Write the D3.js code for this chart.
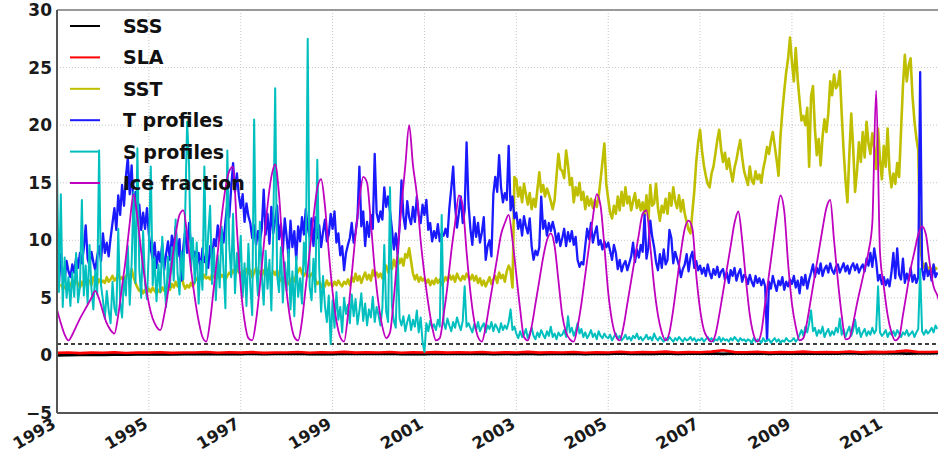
<!DOCTYPE html>
<html><head><meta charset="utf-8">
<script src="https://cdn.jsdelivr.net/npm/d3@7"></script>
<style>html,body{margin:0;padding:0;background:#fff;} svg{display:block;}</style>
</head><body><svg id="chart" width="938" height="454"></svg>
<script>
// ---------------- DATA ----------------
const seriesNames = ["SSS", "SLA", "SST", "T profiles", "S profiles", "Ice fraction"];
const xTickYears = [1993, 1995, 1997, 1999, 2001, 2003, 2005, 2007, 2009, 2011];
const yTicks = [-5, 0, 5, 10, 15, 20, 25, 30];
const startYear = 1993;
const thresholdLevel = 1;

// quarterly samples (4 per year)
const sss = [
0.00,0.02,0.04,0.05, 0.06,0.08,0.07,0.09, 0.10,0.12,0.09,0.11, 0.12,0.14,0.11,0.13,
0.12,0.15,0.11,0.14, 0.13,0.15,0.12,0.14, 0.12,0.16,0.13,0.15, 0.13,0.15,0.12,0.14,
0.12,0.16,0.13,0.15, 0.13,0.15,0.12,0.14, 0.12,0.15,0.11,0.14, 0.13,0.16,0.12,0.15,
0.14,0.17,0.13,0.16, 0.14,0.18,0.13,0.16, 0.15,0.18,0.14,0.17, 0.15,0.19,0.14,0.17,
0.16,0.19,0.15,0.18, 0.16,0.20,0.15,0.18, 0.17,0.20,0.16,0.19, 0.18,0.20];
const sla = [
0.22,0.25,0.20,0.24, 0.23,0.27,0.21,0.25, 0.24,0.28,0.22,0.26, 0.25,0.30,0.23,0.27,
0.24,0.29,0.22,0.26, 0.25,0.30,0.23,0.28, 0.26,0.31,0.24,0.27, 0.25,0.30,0.23,0.27,
0.26,0.29,0.24,0.28, 0.25,0.30,0.23,0.27, 0.26,0.31,0.24,0.28, 0.25,0.30,0.23,0.27,
0.26,0.32,0.25,0.29, 0.27,0.33,0.26,0.29, 0.28,0.33,0.45,0.29, 0.27,0.32,0.25,0.29,
0.28,0.33,0.27,0.30, 0.28,0.34,0.27,0.31, 0.29,0.33,0.42,0.30, 0.30,0.33];

// semi-monthly samples (24 per year)
const sst = [
null,null,6.2,5.8,6.0,5.7,6.3,6.0,6.5,6.1,6.6,6.2,5.9,6.4,6.0,6.7,6.3,6.5,6.1,6.8,6.4,6.2,6.6,6.3,
6.5,6.3,6.8,6.4,6.6,6.9,6.5,6.7,7.0,6.6,6.8,6.4,6.9,7.1,6.7,7.5,6.8,6.3,5.9,5.6,5.8,5.4,5.7,5.5,
5.8,5.5,5.9,5.6,5.4,5.7,5.5,5.9,5.6,5.8,6.0,5.7,6.2,5.9,6.4,6.0,6.3,7.1,6.2,5.8,6.1,5.9,6.3,6.0,
6.4,6.7,6.5,6.9,6.6,7.0,6.7,6.8,6.6,7.0,6.8,6.6,6.9,6.7,7.0,6.8,6.6,6.9,7.2,7.0,7.4,7.1,7.6,7.2,
7.0,7.3,6.9,7.5,7.1,7.4,6.8,7.2,7.6,7.0,7.3,6.9,7.4,7.1,7.5,7.2,6.9,7.3,7.0,7.4,6.8,6.5,6.7,6.3,
6.6,6.2,6.5,6.8,6.4,7.0,7.3,7.6,7.1,6.9,7.2,7.0,6.8,7.1,6.9,6.6,6.2,6.4,5.9,6.3,6.0,6.5,6.1,6.3,
6.0,6.4,6.1,6.5,6.2,6.0,6.4,6.2,6.6,6.1,6.8,6.4,7.1,6.5,6.9,6.3,6.8,7.2,6.6,7.0,6.5,7.4,6.9,7.2,
6.8,7.1,6.7,7.4,7.8,7.2,8.0,7.5,8.3,7.7,8.6,8.0,8.4,7.8,8.8,8.5,9.3,8.2,7.1,6.6,7.0,6.4,6.8,6.5,
6.7,6.3,6.6,6.1,6.5,6.2,6.7,6.3,6.6,6.1,6.4,6.8,6.5,7.0,6.6,6.9,6.4,7.1,6.7,6.5,6.9,6.6,7.1,6.8,
6.6,7.0,6.5,6.9,6.3,6.7,6.1,6.5,6.0,6.4,6.8,6.2,6.6,6.9,6.3,7.2,6.7,7.0,6.4,7.3,7.8,7.4,5.9,15.5,
15.3,13.8,14.6,13.3,14.9,14.0,13.1,14.1,12.7,13.6,12.9,14.4,15.9,14.2,14.8,13.8,14.5,14.0,13.4,12.7,13.5,15.6,17.5,16.2,
16.0,15.4,17.8,16.5,14.8,15.4,13.3,14.6,13.9,15.0,13.5,14.2,12.7,13.8,13.0,13.6,12.8,13.5,12.9,13.8,15.2,16.8,18.4,14.9,
13.6,12.4,11.9,13.0,12.3,13.8,12.6,14.2,13.0,14.6,13.2,13.8,12.6,13.4,14.1,12.8,13.5,12.6,13.3,12.2,13.9,11.7,14.8,13.0,
13.2,14.9,12.8,11.7,13.0,12.4,13.6,12.3,14.1,13.0,14.6,13.4,12.8,13.9,12.5,13.5,12.3,11.6,10.9,10.6,12.5,14.3,16.8,18.5,
19.6,17.8,16.5,15.6,14.9,14.6,15.8,16.4,17.5,18.7,19.6,17.9,16.8,17.6,16.2,17.1,16.0,15.1,16.3,17.0,17.9,18.7,17.2,16.0,
15.4,14.8,16.4,15.2,14.9,16.0,15.3,15.7,15.0,16.2,17.0,18.1,17.5,18.6,19.4,18.2,17.0,15.6,19.0,21.2,23.0,24.6,25.8,27.6,
25.5,23.8,26.7,24.0,22.1,20.4,20.8,20.0,21.5,16.4,22.5,23.4,19.7,17.4,18.8,16.5,19.0,20.5,19.4,21.0,23.8,22.6,24.4,23.2,
23.5,24.7,21.0,17.8,15.2,13.3,17.5,21.0,18.0,14.2,16.0,18.5,16.8,19.4,17.2,20.3,18.4,17.5,19.3,18.0,16.2,19.7,17.0,15.3,
18.2,16.4,19.7,16.0,14.6,15.8,14.9,16.7,15.5,19.5,23.4,26.1,23.8,25.2,25.8,22.5,20.4,18.9,17.8,9.5,8.2,7.6,8.0,7.4,
7.7,7.3,7.8,7.5,7.6];

const tProfiles = [
7.5,6.2,8.8,7.0,6.5,8.2,7.3,6.8,7.9,7.2,8.5,7.6,8.9,8.0,9.3,11.3,8.4,7.8,9.0,8.1,7.4,8.6,9.5,8.2,
10.6,8.9,9.8,8.6,10.2,11.5,12.8,10.9,13.9,12.2,14.8,13.0,15.5,17.2,14.0,16.5,12.6,14.2,11.8,13.1,10.9,12.4,11.0,12.8,
10.5,9.2,8.4,9.8,7.6,9.0,8.1,9.7,7.4,8.8,9.9,8.3,10.4,9.1,11.2,8.6,10.1,6.5,9.4,10.8,8.9,11.5,9.6,8.5,
9.0,7.8,8.9,7.4,9.3,8.1,8.7,7.6,9.5,8.3,10.1,9.5,11.3,10.0,10.9,9.8,11.6,13.2,12.0,14.5,16.7,14.2,15.8,13.9,
12.8,14.0,11.6,13.2,12.1,11.5,10.2,11.3,9.6,10.8,9.9,11.0,14.4,10.5,12.3,9.7,12.9,10.6,11.8,13.0,10.1,11.4,9.0,11.9,
10.3,8.5,11.7,9.4,10.8,8.3,11.2,9.9,12.0,10.5,12.7,11.1,10.3,11.9,9.5,12.0,10.2,11.3,9.4,10.7,11.8,9.9,10.5,12.3,
11.0,12.5,9.8,10.6,8.7,9.5,7.4,8.9,9.6,10.2,11.5,9.8,10.7,12.0,16.4,11.2,12.5,9.5,11.6,10.3,12.2,11.0,17.5,12.4,
11.6,12.5,11.8,14.6,12.9,13.8,12.5,11.0,9.2,10.6,8.8,11.3,15.2,12.1,11.0,13.4,12.0,11.4,12.9,11.6,13.8,12.2,11.5,13.1,
12.2,13.5,10.9,11.5,9.9,10.8,10.2,11.4,9.9,10.6,10.4,11.0,10.3,12.8,14.5,16.4,13.0,11.1,12.4,13.8,11.5,12.6,18.5,13.2,
11.0,9.6,12.0,10.3,11.5,9.8,10.7,12.0,8.3,9.5,10.0,8.6,14.0,15.5,14.2,17.4,14.6,13.3,14.1,13.5,18.2,12.6,13.8,11.9,
12.4,11.0,11.8,10.4,12.1,11.2,10.6,11.9,9.5,8.3,9.1,8.7,9.4,13.8,11.0,11.7,10.4,11.5,10.8,11.6,10.9,9.8,10.6,9.5,
10.2,11.0,9.5,10.7,9.9,10.8,9.6,10.3,8.3,7.7,8.1,7.9,9.5,11.0,10.1,11.5,9.8,10.6,11.2,9.6,10.0,9.2,9.9,9.4,
9.8,9.1,8.3,9.6,8.9,7.5,8.3,7.3,7.9,8.2,7.4,8.0,8.6,9.8,8.1,9.2,8.5,9.6,9.0,12.2,8.4,9.4,11.7,10.3,
9.4,8.1,7.4,8.8,7.6,9.2,7.9,8.3,10.9,10.2,8.0,9.0,8.4,7.8,6.8,7.5,7.9,8.8,7.3,8.5,9.0,7.6,8.2,7.4,
7.8,7.1,7.6,6.9,7.9,7.2,6.7,7.5,7.0,7.7,6.8,7.3,7.5,6.6,7.2,6.3,7.4,6.9,7.6,6.5,7.1,7.5,6.4,7.0,
6.8,6.2,7.0,6.4,6.0,6.9,6.3,6.7,6.1,6.6,6.0,1.3,6.4,5.8,6.9,6.2,5.6,6.5,6.1,6.8,5.7,6.4,6.0,6.6,
6.2,6.9,5.9,6.5,5.4,6.8,6.1,7.0,5.8,6.6,7.2,7.9,6.8,7.6,7.1,8.0,6.9,7.5,7.8,7.2,8.0,7.4,7.1,7.7,
7.9,7.2,7.6,8.0,7.3,7.8,7.1,7.7,8.0,7.4,7.9,7.2,7.6,7.9,7.3,8.4,7.8,8.9,7.7,9.3,8.2,6.5,7.0,6.2,
6.8,6.1,6.6,6.0,7.2,8.9,6.7,9.3,7.0,6.6,8.4,6.3,7.1,6.5,7.6,6.4,7.0,6.3,6.8,24.6,7.5,6.6,8.0,6.9,
7.4,6.5,7.9,6.8,7.2];

const sProfiles = [
16.3,5.5,14.0,4.2,8.5,5.0,6.8,4.3,7.2,5.1,8.9,4.6,6.0,13.5,5.2,7.8,4.5,9.6,5.8,4.0,7.4,5.3,17.8,6.1,
4.8,3.2,5.6,3.9,2.8,6.4,4.1,3.5,11.0,4.7,3.3,6.8,5.2,9.5,4.4,8.0,14.2,6.3,18.0,7.5,5.0,10.8,6.2,4.9,
9.2,16.4,6.1,8.5,4.7,7.9,5.5,10.3,6.8,4.2,8.6,5.9,9.4,6.5,11.8,7.1,5.3,9.0,6.6,12.5,20.3,16.5,7.4,10.2,
6.3,9.8,4.5,8.2,5.7,16.4,7.0,10.5,13.0,6.2,9.3,4.8,8.7,5.9,11.2,7.5,4.1,17.8,9.6,6.8,12.3,5.4,8.9,7.2,
10.4,5.1,8.0,4.3,9.7,6.0,3.5,20.5,7.8,5.2,11.6,6.9,4.4,9.1,5.8,8.3,3.9,10.7,23.2,7.0,5.5,9.4,4.6,8.1,
5.6,9.2,4.0,7.3,3.4,8.6,5.1,6.7,4.5,9.8,7.2,27.5,6.0,4.8,8.4,5.5,17.0,7.6,3.8,6.9,4.3,2.9,5.2,1.0,
4.8,2.4,5.5,3.1,4.2,2.0,5.0,3.6,4.4,2.8,5.3,3.4,4.9,2.7,3.9,5.4,3.0,4.5,2.6,4.0,3.3,5.1,2.9,4.2,
3.5,2.6,4.1,9.6,3.8,2.9,14.6,4.3,3.0,2.4,8.8,3.2,2.6,3.4,2.1,2.9,3.5,2.2,3.1,2.5,3.9,2.0,3.3,1.2,
0.3,2.8,2.1,3.0,2.4,2.7,2.2,3.1,2.5,12.2,2.9,2.3,3.2,2.6,2.1,2.9,2.4,3.3,2.7,2.2,3.0,6.0,2.5,2.8,
2.4,2.0,2.7,2.2,2.9,2.1,2.5,2.8,2.0,2.6,2.3,2.9,2.1,2.7,2.4,2.0,2.8,2.2,2.6,2.3,2.9,4.0,2.2,2.5,
1.9,1.5,2.1,1.6,1.8,2.3,1.5,1.9,2.4,1.7,1.4,2.0,1.6,2.2,1.8,1.5,2.1,1.7,2.5,1.6,1.9,1.4,2.0,1.7,
1.8,2.2,1.6,3.4,2.0,2.4,1.7,2.1,2.8,1.9,2.3,1.6,2.0,1.5,1.8,2.2,1.6,1.9,1.4,2.1,1.7,1.5,1.9,1.6,
1.5,1.8,1.3,1.6,1.9,1.4,1.7,1.3,1.5,1.8,1.4,1.6,1.3,1.7,1.5,1.9,1.4,1.6,1.3,1.5,1.8,1.4,1.6,1.3,
1.9,1.5,1.3,1.6,1.4,1.2,1.5,1.3,1.6,1.4,1.2,1.5,1.3,1.6,1.4,1.2,1.5,1.3,1.4,1.6,1.3,1.5,1.2,1.4,
1.3,1.5,1.2,1.4,1.6,1.3,1.5,1.2,1.4,1.3,1.6,1.2,1.5,1.3,1.4,1.2,1.5,1.3,1.6,1.4,1.2,1.5,1.3,1.4,
1.2,1.4,1.3,1.1,1.5,1.2,1.4,1.3,1.1,1.5,1.2,1.3,1.4,1.1,1.3,1.5,1.2,1.4,1.1,1.3,1.2,1.5,1.3,1.2,
1.3,1.5,1.2,1.4,1.8,2.2,1.7,2.5,2.0,2.8,3.9,2.1,2.4,1.7,2.2,1.9,2.5,1.6,2.0,2.3,1.7,2.1,1.8,2.4,
2.0,3.2,1.8,2.3,1.6,2.1,2.5,1.7,2.2,3.1,1.9,2.4,1.6,2.0,2.3,1.7,2.1,1.8,2.4,1.9,2.2,6.0,2.0,1.7,
1.9,2.2,1.6,2.0,1.8,2.1,1.7,2.2,1.9,1.6,2.0,1.8,2.2,1.7,1.9,2.1,1.6,2.0,2.3,7.5,2.1,1.8,2.2,1.9,
2.1,2.4,2.0,2.6,2.3];

// monthly samples (12 per year)
const iceFraction = [
4.0,2.8,1.8,1.3,1.8,2.5,3.2,3.8,4.4,5.0,5.6,4.9,
3.8,2.8,2.2,1.9,3.5,6.0,8.5,11.5,14.0,12.0,9.0,6.5,
4.5,3.2,2.5,2.2,3.5,5.5,8.0,10.5,12.2,12.6,10.5,7.5,
5.0,3.0,1.6,1.2,3.0,6.0,9.0,12.0,14.5,16.0,16.4,11.0,
6.0,3.0,1.5,1.3,3.0,6.0,9.5,13.0,15.5,16.6,14.0,9.0,
5.5,3.0,1.6,1.3,3.0,6.0,9.0,12.0,14.5,15.3,13.0,9.0,
5.5,3.0,1.6,1.2,3.5,7.0,10.5,13.5,15.5,15.0,11.5,7.5,
4.5,2.5,1.5,2.0,5.0,9.0,13.0,16.5,20.0,16.5,14.0,10.0,
7.0,4.5,2.5,1.3,1.5,3.5,6.0,9.0,11.5,13.9,13.0,9.0,
5.5,3.0,1.6,1.2,2.5,4.5,6.5,8.5,10.5,11.5,12.2,10.0,
7.0,4.0,1.6,1.3,2.5,4.5,6.5,8.5,10.0,10.6,9.5,6.5,
3.5,2.0,1.4,1.2,2.5,4.5,7.0,9.5,12.0,14.0,13.0,9.5,
5.5,3.0,1.7,1.3,2.5,4.5,6.5,8.5,10.5,12.3,12.6,9.5,
6.0,3.5,2.0,1.3,2.0,4.0,6.5,9.0,11.0,11.7,11.0,7.0,
4.0,2.2,1.5,1.2,1.8,3.5,5.5,7.5,9.5,11.5,12.5,10.0,
6.5,3.5,1.8,1.2,2.0,4.5,7.0,9.5,12.0,13.9,12.5,8.0,
4.5,2.5,1.3,1.5,3.0,5.0,7.0,9.0,11.0,12.8,13.5,10.0,
6.5,3.5,1.4,1.5,2.8,4.5,6.0,7.5,9.0,11.5,23.0,9.0,
6.0,3.5,2.0,1.3,1.6,3.5,5.5,7.5,9.0,10.5,11.2,10.5,
8.0,6.0,5.2,4.0];

// ---------------- STYLE ----------------
const seriesValues = [sss, sla, sst, tProfiles, sProfiles, iceFraction];
const samplesPerYear = [4, 4, 24, 24, 24, 12];
const seriesColors = ["#000000", "#ff0000", "#bfbf00", "#1a1aff", "#00bfbf", "#bf00bf"];
const seriesWidths = [2.8, 2.6, 2.6, 2.3, 2.0, 1.8];

const svg = d3.select("#chart");
const x = d3.scaleLinear().domain([1993, 2012.18]).range([57, 938]);
const y = d3.scaleLinear().domain([-5, 30]).range([413, 10]);
const FONT = "'DejaVu Sans', 'Liberation Sans', sans-serif";

svg.append("defs").append("clipPath").attr("id", "plotclip")
  .append("rect").attr("x", 57).attr("y", 10).attr("width", 881).attr("height", 403);

// grid
const grid = svg.append("g");
grid.selectAll("line.h").data(yTicks).join("line")
  .attr("x1", 57).attr("x2", 938).attr("y1", d => y(d)).attr("y2", d => y(d))
  .attr("stroke", "#c4c4c4").attr("stroke-width", 1).attr("stroke-dasharray", "1,2");
grid.selectAll("line.v").data(xTickYears).join("line")
  .attr("x1", d => x(d)).attr("x2", d => x(d)).attr("y1", 10).attr("y2", 413)
  .attr("stroke", "#c4c4c4").attr("stroke-width", 1).attr("stroke-dasharray", "1,2");

const plot = svg.append("g").attr("clip-path", "url(#plotclip)");

// threshold dashed line
plot.append("line")
  .attr("x1", 57).attr("x2", 938).attr("y1", y(thresholdLevel)).attr("y2", y(thresholdLevel))
  .attr("stroke", "#000").attr("stroke-width", 1.5).attr("stroke-dasharray", "4,3");

// series
seriesValues.forEach((vals, k) => {
  const pts = vals.map((v, i) => ({t: startYear + i / samplesPerYear[k], v}));
  const line = d3.line().defined(d => d.v != null)
    .x(d => x(d.t)).y(d => y(d.v))
    .curve(k === 5 ? d3.curveMonotoneX : d3.curveLinear);
  plot.append("path").datum(pts)
    .attr("d", line).attr("fill", "none")
    .attr("stroke", seriesColors[k]).attr("stroke-width", seriesWidths[k])
    .attr("stroke-linejoin", "round");
});

// spines
svg.append("line").attr("x1", 57).attr("x2", 938).attr("y1", 10).attr("y2", 10)
  .attr("stroke", "#999").attr("stroke-width", 2);
svg.append("line").attr("x1", 57).attr("x2", 57).attr("y1", 10).attr("y2", 413)
  .attr("stroke", "#555").attr("stroke-width", 2);
svg.append("line").attr("x1", 57).attr("x2", 938).attr("y1", 413).attr("y2", 413)
  .attr("stroke", "#555").attr("stroke-width", 2);

// y tick labels
svg.append("g").selectAll("text").data(yTicks).join("text")
  .attr("x", 52).attr("y", d => y(d) + 6)
  .attr("text-anchor", "end")
  .attr("font-family", FONT).attr("font-weight", "bold").attr("font-size", 17)
  .attr("fill", "#1a1a1a")
  .text(d => d < 0 ? "\u2212" + Math.abs(d) : String(d));

// x tick labels
svg.append("g").selectAll("text").data(xTickYears).join("text")
  .attr("transform", d => `translate(${x(d)},427) rotate(-30)`)
  .attr("text-anchor", "end")
  .attr("font-family", FONT).attr("font-weight", "bold").attr("font-size", 16.5)
  .attr("fill", "#1a1a1a")
  .text(d => String(d));

// legend
const legend = svg.append("g");
seriesNames.forEach((name, i) => {
  const ly = 26 + i * 31.4;
  legend.append("line").attr("x1", 70).attr("x2", 100).attr("y1", ly).attr("y2", ly)
    .attr("stroke", seriesColors[i]).attr("stroke-width", 2);
  legend.append("text").attr("x", 123).attr("y", ly + 7)
    .attr("font-family", FONT).attr("font-weight", "bold").attr("font-size", 19)
    .attr("fill", "#111").text(name);
});
</script>
</body></html>
